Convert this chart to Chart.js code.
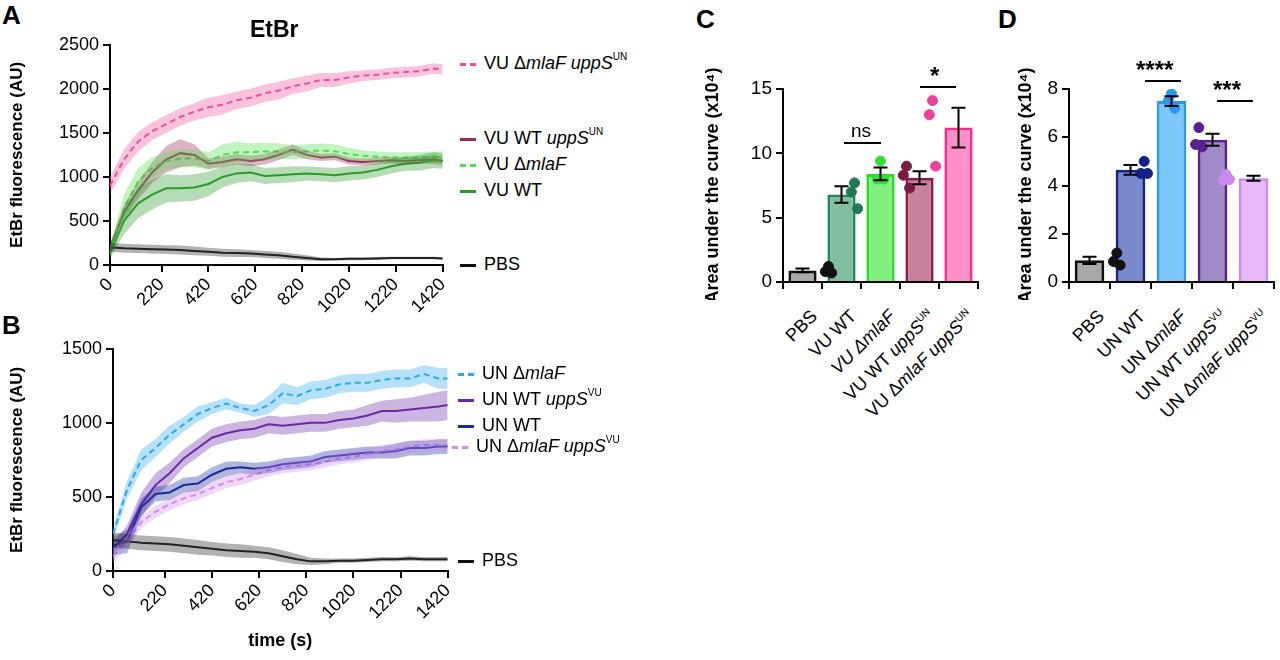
<!DOCTYPE html>
<html><head><meta charset="utf-8">
<script src="https://cdn.jsdelivr.net/npm/chart.js@4"></script>
<style>
body{margin:0;width:1280px;height:660px;background:#fff;font-family:Arial,"Liberation Sans",sans-serif;position:relative;overflow:hidden}
.c{position:absolute}
.t{position:absolute;white-space:nowrap;color:#000;font-size:18px;line-height:1}
.t sup{font-size:10px;vertical-align:top;position:relative;top:-2px}
.b{font-weight:bold}
.L{font-weight:bold;font-size:26px}
.sw{display:inline-block;width:16px;margin-right:8px;vertical-align:middle;border-top-width:3px}
.hl{position:absolute;height:0;border-top:2px solid #000}
.rl{position:absolute;transform-origin:100% 0;transform:rotate(-45deg);white-space:nowrap;font-size:18px;text-align:right}
.rl sup{font-size:10px;vertical-align:top}
</style></head><body>
<div class="c" style="left:5px;top:30px;width:455px;height:300px"><canvas id="ca"></canvas></div>
<div class="c" style="left:5px;top:334px;width:460px;height:318px"><canvas id="cb"></canvas></div>
<div class="c" style="left:700px;top:60px;width:290px;height:240px"><canvas id="cc"></canvas></div>
<div class="c" style="left:1013px;top:60px;width:267px;height:240px"><canvas id="cd"></canvas></div>

<div class="t L" style="left:2px;top:2px">A</div>
<div class="t L" style="left:2px;top:312px">B</div>
<div class="t L" style="left:696px;top:6px">C</div>
<div class="t L" style="left:998px;top:6px">D</div>
<div class="t b" style="left:250px;top:18px;font-size:23px">EtBr</div>

<div class="t" style="left:460px;top:54px"><span class="sw" style="border-top:3px dashed #f0509a"></span>VU Δ<i>mlaF uppS</i><sup>UN</sup></div>
<div class="t" style="left:460px;top:129px"><span class="sw" style="border-top:3px solid #9b2c5a"></span>VU WT <i>uppS</i><sup>UN</sup></div>
<div class="t" style="left:460px;top:155px"><span class="sw" style="border-top:3px dashed #4ee04e"></span>VU Δ<i>mlaF</i></div>
<div class="t" style="left:460px;top:181px"><span class="sw" style="border-top:3px solid #2a9a2a"></span>VU WT</div>
<div class="t" style="left:460px;top:255px"><span class="sw" style="border-top:3px solid #111"></span>PBS</div>

<div class="t" style="left:458px;top:364px"><span class="sw" style="border-top:3px dashed #2aa8f0"></span>UN Δ<i>mlaF</i></div>
<div class="t" style="left:458px;top:390px"><span class="sw" style="border-top:3px solid #6a2aa8"></span>UN WT <i>uppS</i><sup>VU</sup></div>
<div class="t" style="left:458px;top:416px"><span class="sw" style="border-top:3px solid #1a2a9a"></span>UN WT</div>
<div class="t" style="left:452px;top:437px"><span class="sw" style="border-top:3px dashed #d08af0"></span>UN Δ<i>mlaF uppS</i><sup>VU</sup></div>
<div class="t" style="left:458px;top:551px"><span class="sw" style="border-top:3px solid #111"></span>PBS</div>

<div class="hl" style="left:844px;top:142px;width:37px"></div>
<div class="t" style="left:851px;top:121px;font-size:19px">ns</div>
<div class="hl" style="left:920px;top:86px;width:36px"></div>
<div class="t b" style="left:930px;top:64px;font-size:24px">*</div>
<div class="hl" style="left:1145px;top:80px;width:36px"></div>
<div class="t b" style="left:1136px;top:58px;font-size:24px">****</div>
<div class="hl" style="left:1217px;top:100px;width:36px"></div>
<div class="t b" style="left:1213px;top:78px;font-size:24px">***</div>
<div id="lbls"></div>

<script>
// ---- data ----
const times = [0,60,120,180,240,300,360,420,480,540,600,660,720,780,840,900,960,1020,1080,1140,1200,1260,1320,1380,1420];
const xTicks = [0,220,420,620,820,1020,1220,1420];

const A_mlaFuppS = [900,1200,1400,1520,1600,1680,1740,1790,1820,1870,1900,1950,1980,2030,2060,2100,2100,2130,2150,2160,2180,2190,2200,2230,2220];
const A_mlaFuppS_err = [100,110,110,100,100,100,100,110,110,100,100,100,100,90,90,80,80,70,60,60,60,60,60,60,60];
const A_WTuppS = [200,600,850,1050,1200,1270,1250,1150,1170,1200,1180,1200,1250,1310,1250,1220,1230,1180,1170,1180,1190,1180,1190,1200,1180];
const A_WTuppS_err = [50,80,100,120,150,160,120,60,60,60,60,60,60,60,50,40,40,40,40,40,40,40,40,50,50];
const A_mlaF = [150,650,950,1100,1180,1210,1210,1180,1250,1280,1280,1290,1290,1280,1290,1300,1290,1260,1240,1230,1220,1220,1220,1230,1230];
const A_mlaF_err = [60,150,150,120,100,100,100,100,120,120,100,100,90,80,80,80,80,70,60,60,60,60,60,60,60];
const A_WT = [130,500,700,800,870,870,880,920,1000,1040,1050,1010,1020,1030,1040,1030,1020,1040,1050,1080,1120,1150,1160,1190,1180];
const A_WT_err = [60,150,170,170,160,150,150,140,120,110,100,90,90,90,80,80,80,80,80,80,80,80,90,90,90];
const A_PBS = [200,190,185,180,175,170,160,150,140,135,130,120,110,95,80,65,65,70,70,75,80,80,80,80,75];
const A_PBS_err = [50,50,50,50,50,50,50,45,45,45,40,40,40,35,30,20,15,15,15,15,15,15,15,15,15];

const B_mlaF = [250,550,750,830,920,990,1060,1100,1130,1100,1080,1120,1200,1180,1220,1230,1260,1270,1270,1290,1300,1300,1330,1300,1300];
const B_mlaF_err = [40,60,70,60,60,50,50,40,40,30,40,60,70,60,60,60,60,60,60,60,60,60,60,70,70];
const B_WTuppS = [150,250,450,580,660,760,830,900,930,950,960,990,980,990,1000,1000,1020,1030,1050,1080,1080,1090,1100,1110,1120];
const B_WTuppS_err = [30,60,80,80,70,60,60,60,60,60,60,60,60,60,60,60,60,60,70,70,80,80,90,100,100];
const B_WT = [170,200,430,520,530,580,590,650,690,700,690,700,720,730,740,770,780,790,800,800,810,830,830,840,840];
const B_WT_err = [60,80,60,50,50,50,50,50,50,40,40,40,40,40,40,40,40,40,40,40,50,50,50,50,50];
const B_mlaFuppS = [100,200,330,400,450,490,520,560,600,620,650,680,700,710,720,740,760,770,790,810,820,840,850,850,850];
const B_mlaFuppS_err = [50,40,40,40,40,40,40,40,40,40,40,40,40,40,40,40,40,40,40,40,40,40,40,40,40];
const B_PBS = [210,200,190,185,180,170,160,150,140,135,130,120,100,80,65,65,70,70,75,80,80,85,80,80,80];
const B_PBS_err = [50,50,50,50,50,50,50,45,45,45,40,40,40,35,25,20,15,15,15,15,15,15,15,15,15];

const C_cats = ['PBS','VU WT','VU ΔmlaF','VU WT uppS UN','VU ΔmlaF uppS UN'];
const C_means = [0.9,6.8,8.4,8.1,12.0];
const C_sem = [0.15,0.65,0.5,0.5,1.55];
const C_pts = [[1.2,0.8,0.7],[7.7,7.0,5.7],[9.4,8.0,8.0],[9.0,8.3,7.3],[14.1,13.0,9.0]];
const D_cats = ['PBS','UN WT','UN ΔmlaF','UN WT uppS VU','UN ΔmlaF uppS VU'];
const D_means = [0.9,4.65,7.5,5.9,4.3];
const D_sem = [0.15,0.2,0.2,0.25,0.1];
const D_pts = [[1.2,0.85,0.7],[5.0,4.5,4.5],[7.8,7.5,7.2],[6.4,5.7,5.6],[4.45,4.2,4.25]];
const jitter = [0,-0.12,0.12];

// ---- styling ----
Chart.defaults.font.family = 'Arial, "Liberation Sans", sans-serif';
Chart.defaults.color = '#000';
Chart.defaults.animation = false;

function hexA(h,a){const n=parseInt(h.slice(1),16);return `rgba(${n>>16},${(n>>8)&255},${n&255},${a})`;}
function lineSets(series){
  const out=[];
  series.forEach(s=>{
    const up=times.map((t,i)=>({x:t,y:s.v[i]+s.e[i]}));
    const lo=times.map((t,i)=>({x:t,y:s.v[i]-s.e[i]}));
    out.push({data:up,borderWidth:0,pointRadius:0,fill:'+1',backgroundColor:hexA(s.c,0.35),tension:0});
    out.push({data:lo,borderWidth:0,pointRadius:0,fill:false,tension:0});
  });
  series.forEach(s=>{
    out.push({data:times.map((t,i)=>({x:t,y:s.v[i]})),borderColor:s.c,borderWidth:2,pointRadius:0,fill:false,borderDash:s.d?[6,4]:[],tension:0});
  });
  return out;
}
const axisGrid={drawOnChartArea:false,drawTicks:true,tickLength:7,color:'#000',lineWidth:2};
const axisBorder={display:true,color:'#000',width:2};
const plain=v=>String(v);
function lineChart(id,series,ymax,ystep,yW,xH,padTop,padRight,showXTitle){
  new Chart(document.getElementById(id),{type:'line',data:{datasets:lineSets(series)},
    options:{responsive:true,maintainAspectRatio:false,layout:{padding:{top:padTop,right:padRight,left:0,bottom:0}},
      plugins:{legend:{display:false},tooltip:{enabled:false}},
      scales:{
        x:{type:'linear',min:0,max:1420,afterBuildTicks:a=>{a.ticks=xTicks.map(v=>({value:v}));},
          ticks:{font:{size:18},minRotation:45,maxRotation:45,padding:2,callback:plain},grid:axisGrid,border:axisBorder,
          title:{display:showXTitle,text:'time (s)',font:{size:18,weight:'bold'},padding:0},
          afterFit:s=>{s.height=xH;}},
        y:{min:0,max:ymax,ticks:{stepSize:ystep,font:{size:18},padding:4,callback:plain},grid:axisGrid,border:axisBorder,
          title:{display:true,text:'EtBr fluorescence (AU)',font:{size:17,weight:'bold'},padding:2},
          afterFit:s=>{s.width=yW;}}
      }}});
}
lineChart('ca',[
  {v:A_PBS,e:A_PBS_err,c:'#222222',d:false},
  {v:A_WT,e:A_WT_err,c:'#2a9a2a',d:false},
  {v:A_mlaF,e:A_mlaF_err,c:'#4ee04e',d:true},
  {v:A_WTuppS,e:A_WTuppS_err,c:'#9b2c5a',d:false},
  {v:A_mlaFuppS,e:A_mlaFuppS_err,c:'#f0509a',d:true}],2500,500,105,65,12,12,false);
lineChart('cb',[
  {v:B_PBS,e:B_PBS_err,c:'#222222',d:false},
  {v:B_mlaFuppS,e:B_mlaFuppS_err,c:'#d08af0',d:true},
  {v:B_WT,e:B_WT_err,c:'#1a2a9a',d:false},
  {v:B_WTuppS,e:B_WTuppS_err,c:'#6a2aa8',d:false},
  {v:B_mlaF,e:B_mlaF_err,c:'#2aa8f0',d:true}],1500,500,108,81,12,12,true);

const errPlugin={id:'err',afterDatasetsDraw(ch){
  const o=ch.options.plugins.err;if(!o)return;const ctx=ch.ctx,x=ch.scales.x,y=ch.scales.y;
  ctx.save();ctx.strokeStyle='#000';ctx.lineWidth=2;
  o.m.forEach((m,i)=>{const px=x.getPixelForValue(i);const t=y.getPixelForValue(m+o.s[i]),b=y.getPixelForValue(m-o.s[i]);
    ctx.beginPath();ctx.moveTo(px,t);ctx.lineTo(px,b);ctx.moveTo(px-7,t);ctx.lineTo(px+7,t);ctx.moveTo(px-7,b);ctx.lineTo(px+7,b);ctx.stroke();});
  ctx.restore();}};
function barChart(id,cats,means,sem,pts,fills,borders,dots,ymax,ystep,yW,padRight){
  const sc=[];pts.forEach((p,i)=>p.forEach((v,j)=>sc.push({x:i+jitter[j],y:v})));
  const dotCol=[];pts.forEach((p,i)=>p.forEach(()=>dotCol.push(dots[i])));
  new Chart(document.getElementById(id),{type:'bar',data:{labels:cats,datasets:[
      {type:'scatter',data:sc,xAxisID:'x2',pointRadius:5,pointBackgroundColor:dotCol,pointBorderColor:dotCol,order:0},
      {data:means,backgroundColor:fills,borderColor:borders,borderWidth:3,grouped:false,categoryPercentage:0.85,barPercentage:0.85,order:1}]},
    options:{responsive:true,maintainAspectRatio:false,layout:{padding:{top:29,right:padRight}},
      plugins:{legend:{display:false},tooltip:{enabled:false},err:{m:means,s:sem}},
      scales:{
        x:{ticks:{display:false},grid:axisGrid,border:axisBorder,afterFit:s=>{s.height=18;}},
        x2:{type:'linear',display:false,min:-0.5,max:4.5},
        y:{min:0,max:ymax,ticks:{stepSize:ystep,font:{size:19},padding:4},grid:axisGrid,border:axisBorder,
          title:{display:true,text:'Area under the curve (x10⁴)',font:{size:18,weight:'bold'},padding:2},
          afterFit:s=>{s.width=yW;}}}},plugins:[errPlugin]});
}
barChart('cc',C_cats,C_means,C_sem,C_pts,
  ['#a8a8a8','#7fbf9f','#80f080','#c9809f','#ff8fc8'],['#111111','#1e8a5a','#22dd22','#8a1a4a','#ff2a8a'],
  ['#111111','#1e7a50','#33dd33','#7a1a40','#f0409a'],15,5,83,12);
barChart('cd',D_cats,D_means,D_sem,D_pts,
  ['#a8a8a8','#7a88cc','#7cc8fa','#a08ac8','#e8b8f8'],['#111111','#14208a','#2a98f0','#5a2090','#cc88ee'],
  ['#111111','#14208a','#2a98f0','#5a2090','#cc88ee'],8,2,56,2);

// rotated category labels (with superscripts)
const C_html=['PBS','VU WT','<i>VU ΔmlaF</i>','VU WT <i>uppS</i><sup>UN</sup>','VU Δ<i>mlaF uppS</i><sup>UN</sup>'];
const D_html=['PBS','UN WT','UN Δ<i>mlaF</i>','UN WT <i>uppS</i><sup>VU</sup>','UN Δ<i>mlaF uppS</i><sup>VU</sup>'];
function placeLabels(id,html){
  const ch=Chart.getChart(id);const box=document.getElementById(id).parentNode;
  const L=box.offsetLeft,T=box.offsetTop;const cont=document.getElementById('lbls');
  html.forEach((h,i)=>{const px=L+ch.scales.x.getPixelForValue(i);
    const d=document.createElement('div');d.className='rl';d.innerHTML=h;cont.appendChild(d);
    const w=d.offsetWidth;d.style.left=(px+4-w)+'px';d.style.top=(T+ch.scales.x.bottom+6)+'px';});
}
placeLabels('cc',C_html);placeLabels('cd',D_html);
</script></body></html>
